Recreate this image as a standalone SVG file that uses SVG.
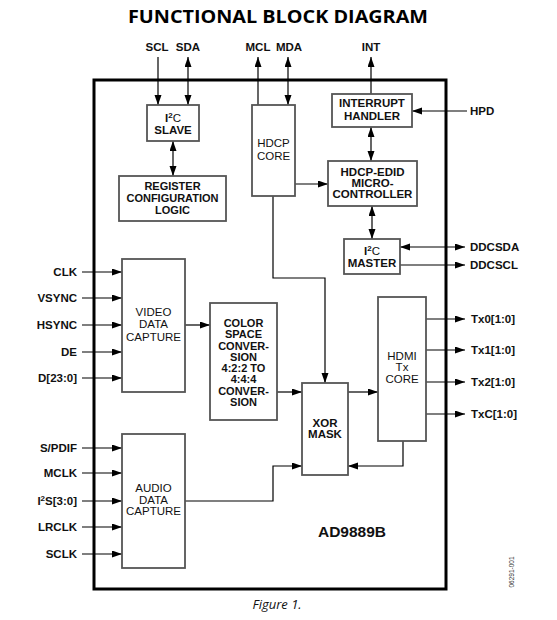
<svg xmlns="http://www.w3.org/2000/svg" width="557" height="620" viewBox="0 0 557 620">
<defs>
<marker id="ah" markerUnits="userSpaceOnUse" markerWidth="11" markerHeight="8" refX="10" refY="3.5" orient="auto-start-reverse">
<path d="M0,0 L10,3.5 L0,7 z" fill="#000"/>
</marker>
<style>
.box{fill:#fff;stroke:#555;stroke-width:1.8}
.t{font-family:"Liberation Sans",Arial,sans-serif;font-weight:bold;font-size:11.5px;fill:#111;text-anchor:middle}
.n{font-weight:normal}
.cs{font-size:11px}
.l{font-family:"Liberation Sans",Arial,sans-serif;font-weight:bold;font-size:11.5px;fill:#111}
.r{text-anchor:end}
.c{fill:none;stroke:#000;stroke-width:1.2}
.a{marker-end:url(#ah)}
.b{marker-start:url(#ah);marker-end:url(#ah)}
</style>
</defs>
<rect width="557" height="620" fill="#fff"/>
<text x="278" y="23" font-family="'Open Sans','Liberation Sans',sans-serif" font-weight="bold" font-size="18" text-anchor="middle" textLength="300" lengthAdjust="spacingAndGlyphs">FUNCTIONAL BLOCK DIAGRAM</text>
<rect id="chip" x="94" y="80" width="352" height="509" fill="none" stroke="#000" stroke-width="3"/>

<g id="connectors">
<path class="c a" d="M158,57 V105"/>
<path class="c b" d="M188,57 V105"/>
<path class="c a" d="M258,105 V57"/>
<path class="c b" d="M288,57 V105"/>
<path class="c a" d="M371,94 V57"/>
<path class="c a" d="M467,111 H412"/>
<path class="c b" d="M371,127 V161"/>
<path class="c b" d="M173,141 V176"/>
<path class="c a" d="M295,184 H328"/>
<path class="c b" d="M372,206 V239"/>
<path class="c b" d="M400,247 H465"/>
<path class="c a" d="M400,265 H465"/>
<path class="c a" d="M273,196 V278 H325 V383"/>
<path class="c a" d="M82,272 H122"/>
<path class="c a" d="M82,298 H122"/>
<path class="c a" d="M82,325 H122"/>
<path class="c a" d="M82,352 H122"/>
<path class="c a" d="M82,378 H122"/>
<path class="c a" d="M185,325 H210"/>
<path class="c a" d="M277,392 H302"/>
<path class="c a" d="M348,392 H378"/>
<path class="c a" d="M426,319 H465"/>
<path class="c a" d="M426,350 H465"/>
<path class="c a" d="M426,382 H465"/>
<path class="c a" d="M426,414 H465"/>
<path class="c a" d="M403,441 V466 H348"/>
<path class="c a" d="M82,448 H122"/>
<path class="c a" d="M82,473 H122"/>
<path class="c a" d="M82,501 H122"/>
<path class="c a" d="M82,527 H122"/>
<path class="c a" d="M82,554 H122"/>
<path class="c a" d="M185,501 H273 V466 H302"/>
</g>

<g id="i2c-slave">
<rect class="box" x="147" y="105" width="52" height="36"/>
<text class="t" x="173" y="122">I<tspan font-size="8" dy="-4">2</tspan><tspan class="n" dy="4">C</tspan></text>
<text class="t" x="173" y="134">SLAVE</text>
</g>
<g id="register-config">
<rect class="box" x="119" y="176" width="107" height="45"/>
<text class="t cs" x="172.5" y="190">REGISTER</text>
<text class="t cs" x="172.5" y="202">CONFIGURATION</text>
<text class="t cs" x="172.5" y="214">LOGIC</text>
</g>
<g id="hdcp-core">
<rect class="box" x="252" y="105" width="43" height="91"/>
<text class="t n" x="273.5" y="147">HDCP</text>
<text class="t n" x="273.5" y="160">CORE</text>
</g>
<g id="interrupt-handler">
<rect class="box" x="332" y="94" width="80" height="33"/>
<text class="t" x="372" y="107">INTERRUPT</text>
<text class="t" x="372" y="120">HANDLER</text>
</g>
<g id="hdcp-edid">
<rect class="box" x="328" y="161" width="89" height="45"/>
<text class="t" x="372.5" y="176">HDCP-EDID</text>
<text class="t" x="372.5" y="187">MICRO-</text>
<text class="t" x="372.5" y="198">CONTROLLER</text>
</g>
<g id="i2c-master">
<rect class="box" x="344" y="239" width="56" height="35"/>
<text class="t" x="372" y="255">I<tspan font-size="8" dy="-4">2</tspan><tspan class="n" dy="4">C</tspan></text>
<text class="t" x="372" y="267">MASTER</text>
</g>
<g id="hdmi-tx-core">
<rect class="box" x="378" y="297" width="48" height="144"/>
<text class="t n" x="402" y="360">HDMI</text>
<text class="t n" x="402" y="371">Tx</text>
<text class="t n" x="402" y="383">CORE</text>
</g>
<g id="xor-mask">
<rect class="box" x="302" y="383" width="46" height="92"/>
<text class="t" x="325" y="427">XOR</text>
<text class="t" x="325" y="438">MASK</text>
</g>
<g id="video-capture">
<rect class="box" x="122" y="259" width="63" height="133"/>
<text class="t n" x="153.5" y="316">VIDEO</text>
<text class="t n" x="153.5" y="328">DATA</text>
<text class="t n" x="153.5" y="341">CAPTURE</text>
</g>
<g id="color-space">
<rect class="box" x="210" y="303" width="67" height="117"/>
<text class="t cs" x="243.5" y="327">COLOR</text>
<text class="t cs" x="243.5" y="338.3">SPACE</text>
<text class="t cs" x="243.5" y="349.6">CONVER-</text>
<text class="t cs" x="243.5" y="360.9">SION</text>
<text class="t cs" x="243.5" y="372.1">4:2:2 TO</text>
<text class="t cs" x="243.5" y="383.4">4:4:4</text>
<text class="t cs" x="243.5" y="394.7">CONVER-</text>
<text class="t cs" x="243.5" y="406">SION</text>
</g>
<g id="audio-capture">
<rect class="box" x="122" y="434" width="63" height="134"/>
<text class="t n" x="153.5" y="492">AUDIO</text>
<text class="t n" x="153.5" y="504">DATA</text>
<text class="t n" x="153.5" y="515">CAPTURE</text>
</g>

<g id="labels">
<text class="t" x="157" y="51">SCL</text>
<text class="t" x="188" y="51">SDA</text>
<text class="t" x="258" y="51">MCL</text>
<text class="t" x="289" y="51">MDA</text>
<text class="t" x="371" y="51">INT</text>
<text class="l" x="470" y="115">HPD</text>
<text class="l" x="470" y="251">DDCSDA</text>
<text class="l" x="470" y="269">DDCSCL</text>
<text class="l" x="471" y="323">Tx0[1:0]</text>
<text class="l" x="471" y="354">Tx1[1:0]</text>
<text class="l" x="471" y="386">Tx2[1:0]</text>
<text class="l" x="471" y="418">TxC[1:0]</text>
<text class="l r" x="77" y="276">CLK</text>
<text class="l r" x="77" y="302">VSYNC</text>
<text class="l r" x="77" y="329">HSYNC</text>
<text class="l r" x="77" y="356">DE</text>
<text class="l r" x="77" y="382">D[23:0]</text>
<text class="l r" x="77" y="452">S/PDIF</text>
<text class="l r" x="77" y="477">MCLK</text>
<text class="l r" x="77" y="505">I<tspan font-size="8" dy="-4">2</tspan><tspan dy="4">S[3:0]</tspan></text>
<text class="l r" x="77" y="531">LRCLK</text>
<text class="l r" x="77" y="558">SCLK</text>
<text class="t" x="352" y="537" style="font-size:15.5px">AD9889B</text>
<text x="0" y="0" transform="translate(514,572) rotate(-90)" font-family="'Liberation Sans',Arial,sans-serif" font-size="6.5" fill="#333" text-anchor="middle">06291-001</text>
<text x="277" y="609" font-family="'Open Sans','Liberation Sans',sans-serif" font-style="italic" font-size="13" fill="#111" text-anchor="middle">Figure 1.</text>
</g>
</svg>
